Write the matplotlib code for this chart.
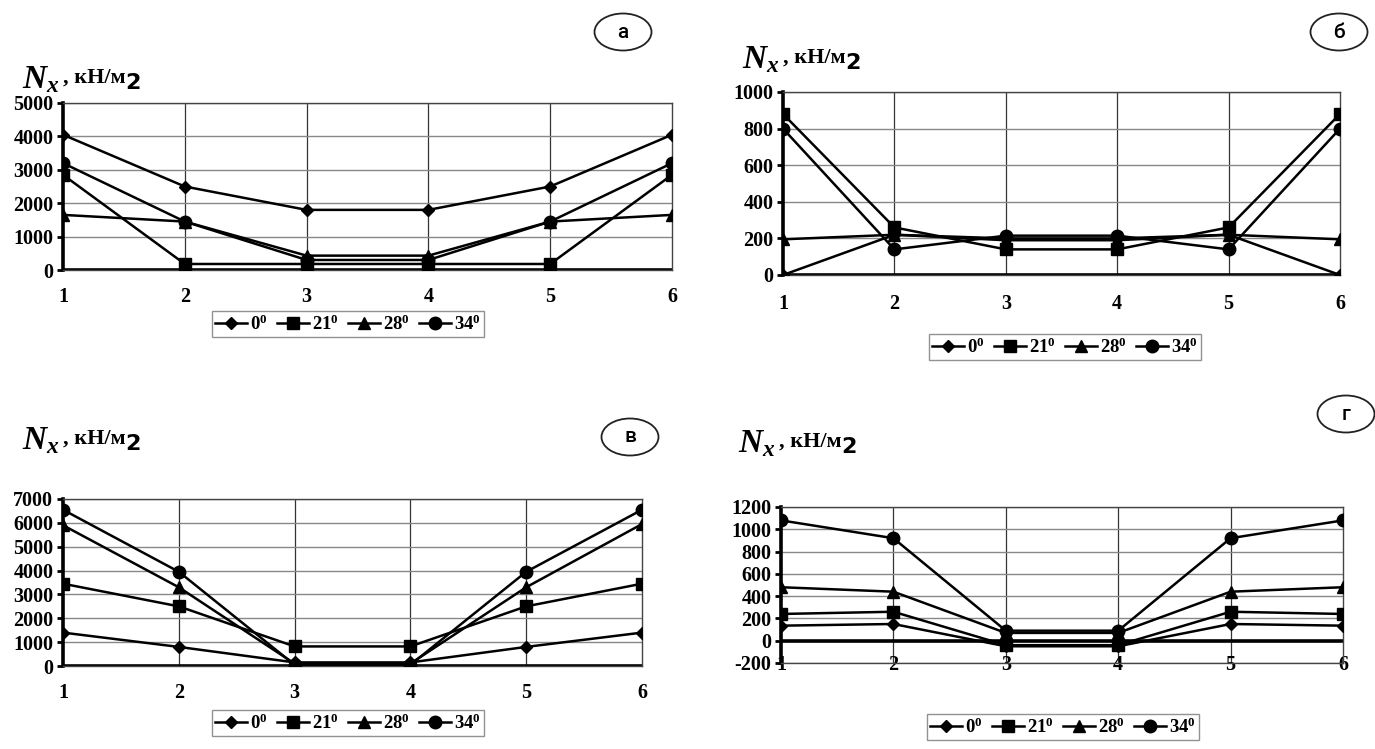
import matplotlib
matplotlib.use("Agg")
import matplotlib.pyplot as plt
from matplotlib.patches import Ellipse

plt.rcParams['font.family'] = ['Liberation Serif', 'DejaVu Serif']
plt.rcParams['font.weight'] = 'bold'
plt.rcParams['axes.unicode_minus'] = False
plt.rcParams['mathtext.fontset'] = 'custom'
plt.rcParams['mathtext.rm'] = 'Liberation Serif:bold'
plt.rcParams['mathtext.bf'] = 'Liberation Serif:bold'
plt.rcParams['mathtext.it'] = 'Liberation Serif:bold:italic'

# points along the section
x = [1, 2, 3, 4, 5, 6]
angles = ['0', '21', '28', '34']
markers = ['D', 's', '^', 'o']
msizes = [6, 8, 8, 9]

# panel а
a_0 = [4050, 2500, 1800, 1800, 2500, 4050]
a_21 = [2850, 180, 180, 180, 180, 2850]
a_28 = [1650, 1450, 430, 430, 1450, 1650]
a_34 = [3200, 1450, 300, 300, 1450, 3200]

# panel б
b_0 = [0, 220, 200, 200, 220, 0]
b_21 = [880, 260, 140, 140, 260, 880]
b_28 = [195, 220, 190, 190, 220, 195]
b_34 = [800, 140, 215, 215, 140, 800]

# panel в
v_0 = [1400, 800, 150, 150, 800, 1400]
v_21 = [3450, 2500, 820, 820, 2500, 3450]
v_28 = [5900, 3300, 100, 100, 3300, 5950]
v_34 = [6550, 3950, 50, 50, 3950, 6550]

# panel г
g_0 = [135, 150, -50, -50, 150, 135]
g_21 = [240, 260, -40, -40, 260, 240]
g_28 = [480, 440, 70, 70, 440, 480]
g_34 = [1080, 920, 90, 90, 920, 1080]

W, H = 1375, 749
fig = plt.figure(figsize=(W / 100, H / 100), dpi=100)


def fx(px):
    return px / W


def fy(py):
    return 1 - py / H


panels = [
    # series, (left, right, top, bottom) px, ylim, yticks, letter, ellipse centre, label pos, legend centre, x pad
    ([a_0, a_21, a_28, a_34], (63, 672, 103, 270), (0, 5000), range(0, 5001, 1000),
     'а', (623, 32), (22, 80), (348, 324), 12),
    ([b_0, b_21, b_28, b_34], (783, 1340, 92, 275), (0, 1000), range(0, 1001, 200),
     'б', (1339, 32), (742, 60), (1065, 347), 14),
    ([v_0, v_21, v_28, v_34], (63, 642, 499, 666), (0, 7000), range(0, 7001, 1000),
     'в', (630, 437), (22, 441), (348, 723), 12),
    ([g_0, g_21, g_28, g_34], (781, 1343, 507, 663), (-200, 1200), range(-200, 1201, 200),
     'г', (1346, 414), (738, 444), (1063, 727), -6),
]

for series, (l, r, t, b), ylim, yticks, letter, ec, lp, lc, xpad in panels:
    ax = fig.add_axes([fx(l), fy(b), fx(r - l), (b - t) / H])
    for k, vals in enumerate(series):
        ax.plot(x, vals, color='black', lw=1.8, marker=markers[k], ms=msizes[k],
                mfc='black', mec='black', label=r'$\mathbf{' + angles[k] + '^{0}}$', zorder=3)
    ax.set_xlim(1, 6)
    ax.set_ylim(*ylim)
    ax.set_xticks(x)
    ax.set_yticks(list(yticks))
    for xv in x[1:-1]:
        ax.axvline(xv, color='#333333', lw=0.9, zorder=1)
    for yv in yticks:
        ax.axhline(yv, color='#888888', lw=1.0, zorder=1)
    ax.axhline(0, color='black', lw=2.6, zorder=2)
    for s in ['top', 'right', 'bottom']:
        ax.spines[s].set_linewidth(1.0)
        ax.spines[s].set_color('#444444')
    ax.spines['left'].set_linewidth(2.6)
    ax.tick_params(axis='y', length=4, width=2, labelsize=14.5, pad=3)
    ax.tick_params(axis='x', length=0, labelsize=14.5, pad=xpad)
    for lab in ax.get_xticklabels() + ax.get_yticklabels():
        lab.set_fontweight('bold')

    leg = ax.legend(loc='center', bbox_to_anchor=(fx(lc[0]), fy(lc[1])),
                    bbox_transform=fig.transFigure, ncol=4, frameon=True, fancybox=False,
                    edgecolor='#777777', fontsize=13.5, handlelength=1.7, handletextpad=0.15,
                    columnspacing=0.5, borderpad=0.2, borderaxespad=0)
    leg.get_frame().set_linewidth(1.0)

    fig.add_artist(Ellipse((fx(ec[0]), fy(ec[1])), fx(57), 37 / H,
                           transform=fig.transFigure, fill=False, lw=1.3, color='#222222'))
    fig.text(fx(ec[0]), fy(ec[1]), letter, ha='center', va='center',
             fontsize=15, family='Roboto', fontweight='medium')

    fig.text(fx(lp[0]), fy(lp[1]), r'$\mathit{N_x}$', fontsize=24, ha='left', va='center')
    fig.text(fx(lp[0] + 41), fy(lp[1] - 2), ', кН/м', fontsize=16, ha='left', va='center',
             fontweight='bold')
    fig.text(fx(lp[0] + 103), fy(lp[1] + 3), '2', fontsize=16, ha='left', va='center',
             family='DejaVu Sans', fontweight='bold')

fig.savefig('out.png', dpi=100)
